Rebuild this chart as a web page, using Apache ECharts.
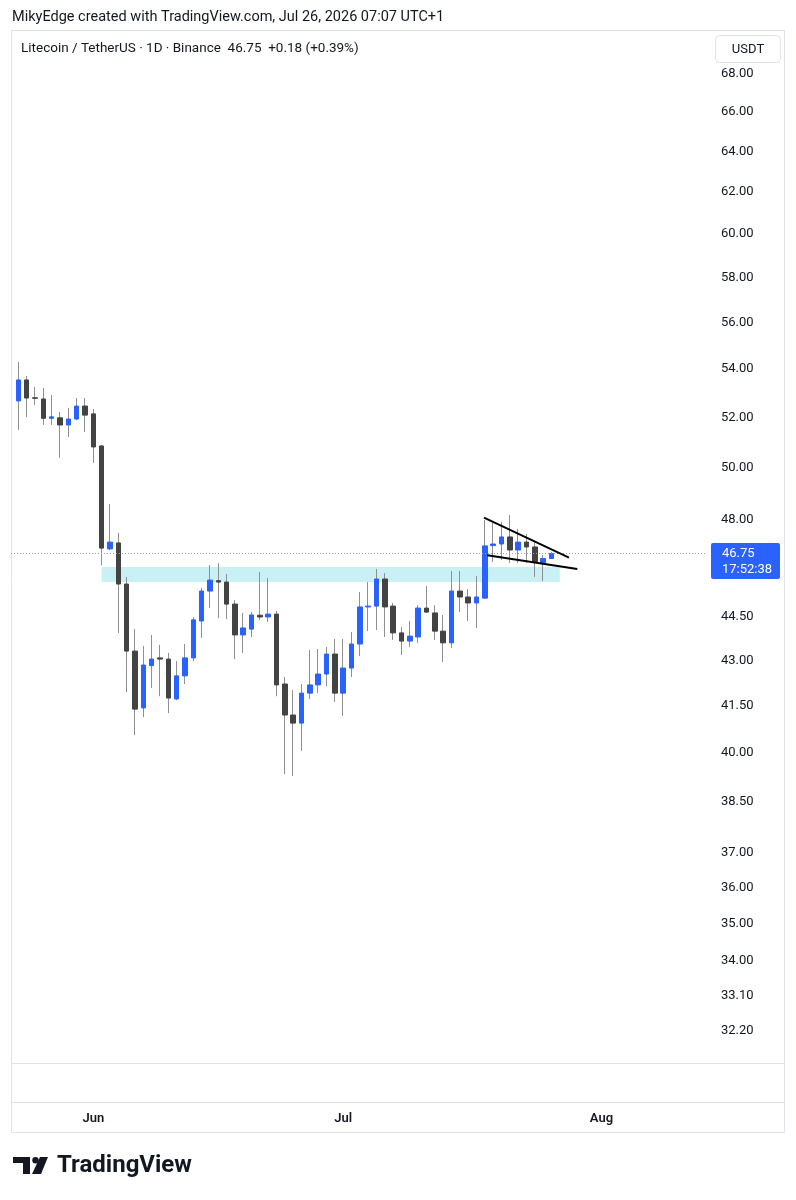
<!DOCTYPE html>
<html><head><meta charset="utf-8">
<script src="https://cdn.jsdelivr.net/npm/echarts@6/dist/echarts.min.js"></script>
<style>html,body{margin:0;padding:0;background:#fff;}#chart{width:796px;height:1200px;}</style>
</head><body><div id="chart"></div>
<script>
// ---- data (daily LTC/USDT, Binance) ----
const dates = [
 '2026-05-23','2026-05-24','2026-05-25','2026-05-26','2026-05-27','2026-05-28','2026-05-29','2026-05-30','2026-05-31',
 '2026-06-01','2026-06-02','2026-06-03','2026-06-04','2026-06-05','2026-06-06','2026-06-07','2026-06-08','2026-06-09','2026-06-10',
 '2026-06-11','2026-06-12','2026-06-13','2026-06-14','2026-06-15','2026-06-16','2026-06-17','2026-06-18','2026-06-19','2026-06-20',
 '2026-06-21','2026-06-22','2026-06-23','2026-06-24','2026-06-25','2026-06-26','2026-06-27','2026-06-28','2026-06-29','2026-06-30',
 '2026-07-01','2026-07-02','2026-07-03','2026-07-04','2026-07-05','2026-07-06','2026-07-07','2026-07-08','2026-07-09','2026-07-10',
 '2026-07-11','2026-07-12','2026-07-13','2026-07-14','2026-07-15','2026-07-16','2026-07-17','2026-07-18','2026-07-19','2026-07-20',
 '2026-07-21','2026-07-22','2026-07-23','2026-07-24','2026-07-25','2026-07-26'];
const opens = [
 52.67,53.54,52.80,52.75,51.96,51.98,51.69,51.93,52.46,
 52.14,50.85,46.92,47.14,45.65,43.32,41.44,42.83,43.09,43.05,
 41.73,42.49,43.09,44.35,45.40,45.77,45.72,44.94,43.87,44.07,
 44.55,44.49,44.59,42.22,41.21,40.95,41.92,42.19,42.55,43.22,
 41.92,42.75,43.56,44.84,44.87,45.83,44.87,43.94,43.66,43.80,
 44.80,44.63,44.00,43.60,45.40,45.19,44.98,45.15,47.04,47.10,
 47.36,46.88,47.17,46.99,46.41,46.57];
const closes = [
 53.54,52.79,52.78,51.96,52.02,51.69,51.93,52.46,52.09,
 50.81,46.95,47.17,45.65,43.32,41.40,42.85,43.05,43.05,41.76,
 42.49,43.09,44.39,45.40,45.79,45.72,44.94,43.87,44.11,44.56,
 44.49,44.59,42.19,41.21,40.95,41.92,42.19,42.55,43.22,41.92,
 42.75,43.56,44.84,44.87,45.83,44.84,43.94,43.66,43.83,44.80,
 44.66,44.00,43.60,45.40,45.19,44.98,45.19,47.03,47.10,47.36,
 46.88,47.17,46.99,46.44,46.57,46.75];
const highs = [
 54.30,53.71,53.25,53.20,52.91,52.22,52.38,52.79,52.79,
 52.34,50.89,48.59,47.51,45.90,44.07,43.49,43.87,43.53,43.26,
 42.98,43.56,44.49,45.51,46.33,46.40,46.01,45.08,44.63,44.66,
 46.08,45.86,44.70,42.45,42.02,42.22,43.36,43.39,43.46,43.73,
 43.73,43.97,45.37,45.72,46.19,46.04,44.98,44.14,44.35,44.90,
 45.58,44.90,44.56,46.12,46.12,45.47,45.94,47.99,47.88,47.92,
 48.18,47.66,47.47,47.17,46.70,46.81];
const lows = [
 51.49,52.01,52.50,51.69,51.69,50.38,51.21,51.89,51.41,
 50.18,46.33,46.88,43.94,41.95,40.57,41.14,42.09,41.82,41.27,
 41.69,42.22,42.98,43.77,44.80,44.45,44.42,43.05,43.26,43.80,
 44.39,44.32,41.82,39.35,39.29,40.07,41.73,41.92,42.15,41.63,
 41.18,42.45,43.15,44.00,44.04,43.80,43.70,43.19,43.46,43.60,
 44.63,43.70,42.95,43.43,44.66,44.35,44.11,45.12,46.44,46.52,
 46.41,46.41,46.41,45.90,45.76,46.55];

const priceTicks = [68, 66, 64, 62, 60, 58, 56, 54, 52, 50, 48, 44.5, 43, 41.5, 40, 38.5, 37, 36, 35, 34, 33.1, 32.2];
const monthTicks = ['2026-06-01', '2026-07-01', '2026-08-01'];
const monthLabels = ['Jun', 'Jul', 'Aug'];

// support zone (rectangle) and falling wedge lines
const zoneDates = ['2026-06-02', '2026-07-27'];
const zonePrices = [46.26, 45.72];
const wedgeUpper = [['2026-07-17T21:36', 48.08], ['2026-07-28T02:24', 46.60]];
const wedgeLower = [['2026-07-18T07:12', 46.69], ['2026-07-29T02:24', 46.19]];

const headerText = 'MikyEdge created with TradingView.com, Jul 26, 2026 07:07 UTC+1';
const titleText = 'Litecoin / TetherUS \u00b7 1D \u00b7 Binance  46.75  +0.18 (+0.39%)';
const lastPrice = closes[closes.length - 1];
const countdown = '17:52:38';

// ---- helpers ----
const DAY = 86400000;
const ORIGIN = Date.UTC(2026, 5, 1);
const dayOf = s => (Date.parse(s.length > 10 ? s + 'Z' : s) - ORIGIN) / DAY;
const L = Math.log;

const wickData = dates.map((d, i) => [dayOf(d), L(opens[i]), L(closes[i]), L(lows[i]), L(highs[i])]);
const bodyData = dates.map((d, i) => [dayOf(d), L(opens[i]), L(closes[i]),
  L(Math.min(opens[i], closes[i])), L(Math.max(opens[i], closes[i]))]);
const monthVals = monthTicks.map(dayOf);

const FONT = 'Roboto, "Noto Sans", sans-serif';
const TXT = '#131722';
const UP = '#2962FF', DOWN = '#434343', WICK = '#8f8f8f';

const chart = echarts.init(document.getElementById('chart'), null, {renderer: 'canvas', width: 796, height: 1200});

chart.setOption({
  animation: false,
  backgroundColor: '#ffffff',
  grid: {left: 11, right: 91, top: 31, bottom: 137, containLabel: false, outerBoundsMode: 'none'},
  xAxis: {
    type: 'value', min: -9.88, max: 73.43,
    axisLine: {show: false}, axisTick: {show: false}, splitLine: {show: false},
    axisLabel: {
      customValues: monthVals,
      formatter: v => monthLabels[monthVals.indexOf(v)] || '',
      margin: 56, verticalAlign: 'middle', color: TXT, fontSize: 13, fontWeight: 600, fontFamily: FONT
    }
  },
  yAxis: {
    type: 'value', position: 'right', scale: true,
    min: L(31.40), max: L(70.32),
    axisLine: {show: false}, axisTick: {show: false}, splitLine: {show: false},
    axisLabel: {
      customValues: priceTicks.map(L),
      formatter: v => Math.exp(v).toFixed(2),
      margin: 16, color: TXT, fontSize: 13, fontFamily: FONT, align: 'left',
      padding: [4, 0, 0, 0]
    }
  },
  series: [
    {
      type: 'line', data: [], silent: true, z: 1,
      markArea: {
        silent: true,
        itemStyle: {color: '#c9f1f5'},
        data: [[{xAxis: dayOf(zoneDates[0]), yAxis: L(zonePrices[0])}, {xAxis: dayOf(zoneDates[1]), yAxis: L(zonePrices[1])}]]
      },
      markLine: {
        silent: true, symbol: ['none', 'none'], precision: 10,
        lineStyle: {color: '#9a9ea8', width: 1, type: [1, 2]},
        label: {show: false},
        data: [{yAxis: L(lastPrice)}]
      }
    },
    {
      type: 'candlestick', name: 'wick', data: wickData, barWidth: 1, z: 2, silent: true,
      itemStyle: {color: WICK, color0: WICK, borderColor: WICK, borderColor0: WICK, borderWidth: 1}
    },
    {
      type: 'candlestick', name: 'body', data: bodyData, barWidth: 5, z: 3, silent: true,
      itemStyle: {color: UP, color0: DOWN, borderColor: UP, borderColor0: DOWN, borderWidth: 1}
    },
    {
      type: 'line', data: wedgeUpper.map(p => [dayOf(p[0]), L(p[1])]), symbol: 'none', z: 10, silent: true,
      lineStyle: {color: '#000000', width: 2}
    },
    {
      type: 'line', data: wedgeLower.map(p => [dayOf(p[0]), L(p[1])]), symbol: 'none', z: 10, silent: true,
      lineStyle: {color: '#000000', width: 2}
    }
  ]
});

const yLast = chart.convertToPixel({yAxisIndex: 0}, L(lastPrice));

chart.setOption({
  graphic: [
    {type: 'text', x: 12, y: 17.5, style: {text: headerText, font: '14.5px ' + FONT, fill: TXT, textVerticalAlign: 'middle'}},
    {type: 'rect', shape: {x: 11.5, y: 30.5, width: 773, height: 1102}, style: {fill: 'none', stroke: '#e0e3eb', lineWidth: 1}, silent: true},
    {type: 'line', shape: {x1: 11, y1: 1063.5, x2: 785, y2: 1063.5}, style: {stroke: '#e0e3eb', lineWidth: 1}, silent: true},
    {type: 'line', shape: {x1: 11, y1: 1102.5, x2: 785, y2: 1102.5}, style: {stroke: '#e0e3eb', lineWidth: 1}, silent: true},
    {type: 'text', x: 21, y: 49, style: {text: titleText, font: '13.5px ' + FONT, fill: TXT, textVerticalAlign: 'middle'}},
    {type: 'rect', shape: {x: 715.5, y: 35.5, width: 65, height: 27, r: 4}, style: {fill: '#fff', stroke: '#e0e3eb', lineWidth: 1}},
    {type: 'text', x: 748, y: 49.5, style: {text: 'USDT', font: '13px ' + FONT, fill: TXT, textAlign: 'center', textVerticalAlign: 'middle'}},
    {type: 'rect', shape: {x: 711, y: yLast - 10.5, width: 69, height: 36, r: 2}, style: {fill: UP}},
    {type: 'text', x: 722, y: yLast, style: {text: lastPrice.toFixed(2), font: '13px ' + FONT, fill: '#fff', textVerticalAlign: 'middle'}},
    {type: 'text', x: 722, y: yLast + 16.5, style: {text: countdown, font: '13px ' + FONT, fill: '#fff', textVerticalAlign: 'middle'}},
    // TradingView logo
    {type: 'polygon', shape: {points: [[13, 1157], [30, 1157], [30, 1174], [23, 1174], [23, 1163], [13, 1163]]}, style: {fill: TXT}},
    {type: 'circle', shape: {cx: 35.5, cy: 1160.2, r: 3.2}, style: {fill: TXT}},
    {type: 'polygon', shape: {points: [[40, 1157], [48, 1157], [41, 1174], [32, 1174]]}, style: {fill: TXT}},
    {type: 'text', x: 57, y: 1166, style: {text: 'TradingView', font: 'bold 24px ' + FONT, fill: TXT, textVerticalAlign: 'middle'}}
  ]
});
</script>
</body></html>
